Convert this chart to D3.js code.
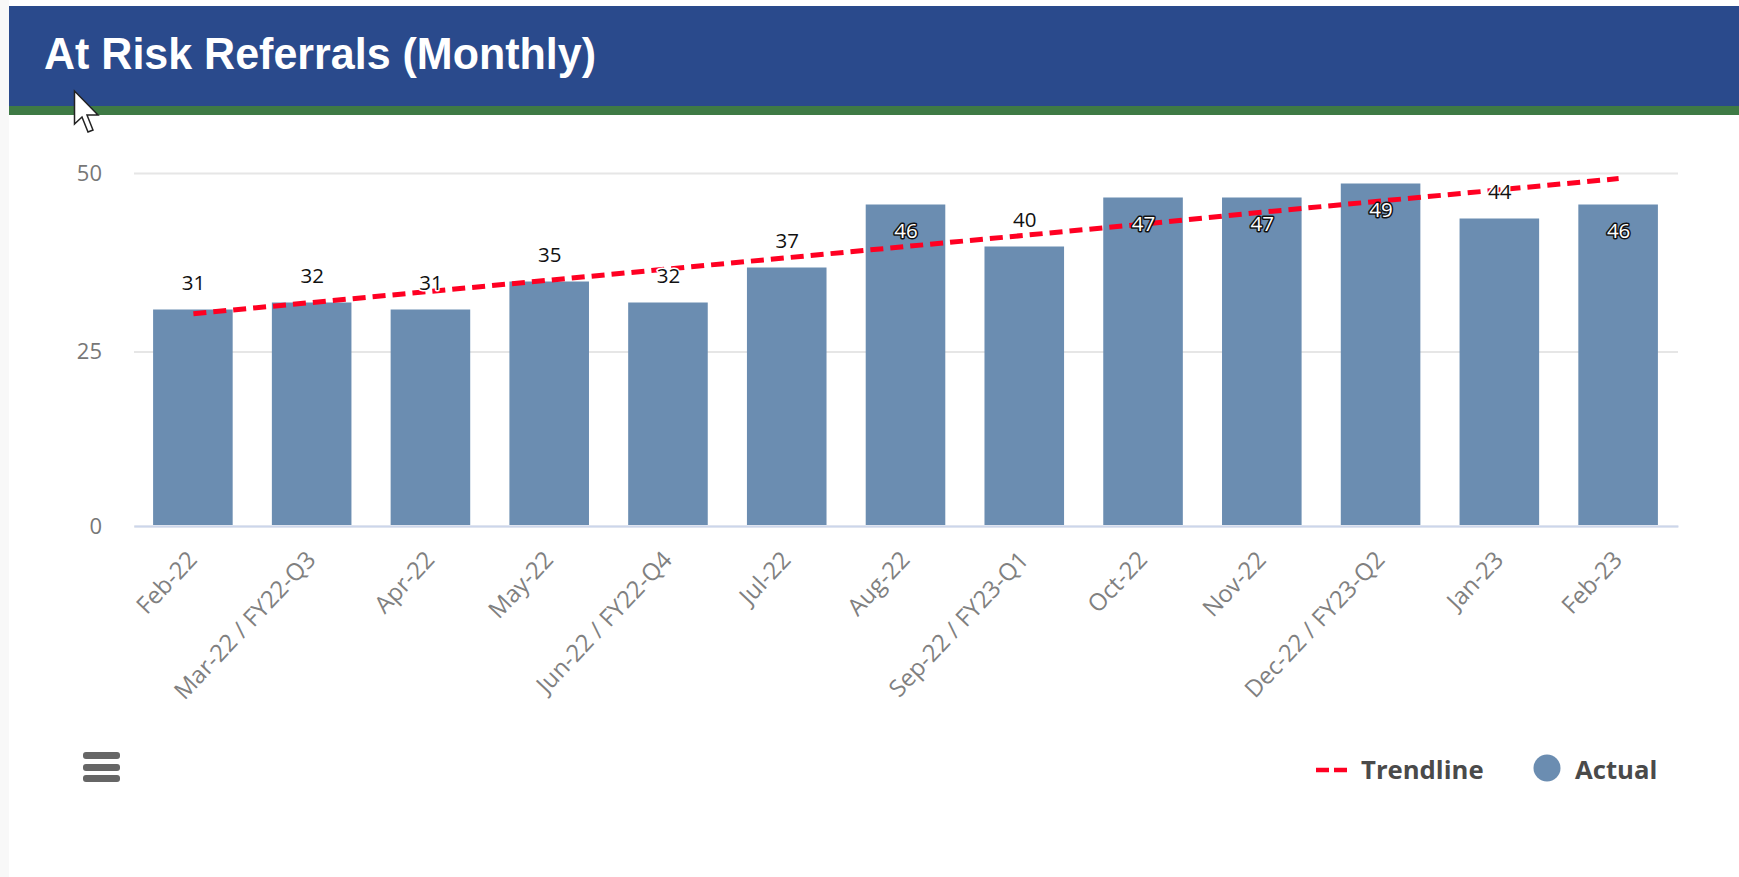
<!DOCTYPE html>
<html>
<head>
<meta charset="utf-8">
<title>At Risk Referrals (Monthly)</title>
<script src="https://cdn.jsdelivr.net/npm/d3@7"></script>
<style>
  html, body { margin: 0; padding: 0; background: #fff; overflow: hidden; }
  svg { display: block; }
  text { font-family: "Open Sans", sans-serif; }
</style>
</head>
<body>
<div id="chart"></div>
<script>
const months = ['Feb-22', 'Mar-22 / FY22-Q3', 'Apr-22', 'May-22', 'Jun-22 / FY22-Q4', 'Jul-22', 'Aug-22',
  'Sep-22 / FY23-Q1', 'Oct-22', 'Nov-22', 'Dec-22 / FY23-Q2', 'Jan-23', 'Feb-23'];
const actual = [31, 32, 31, 35, 32, 37, 46, 40, 47, 47, 49, 44, 46];
const trendline = [30.4, 32.0, 33.6, 35.2, 36.8, 38.4, 40.0, 41.6, 43.2, 44.9, 46.5, 48.1, 49.7];
const yTicks = [0, 25, 50];

const width = 1739;
const height = 877;
const plot = { left: 134, right: 1678, bottom: 526 };

const svg = d3.select('#chart').append('svg')
  .attr('width', width)
  .attr('height', height);

svg.append('rect').attr('width', width).attr('height', height).attr('fill', '#fff');
svg.append('rect').attr('width', 9).attr('height', height).attr('fill', '#f8f8f8');

// header band
svg.append('rect').attr('x', 9).attr('y', 6).attr('width', width - 9).attr('height', 100).attr('fill', '#2a4a8c');
svg.append('rect').attr('x', 9).attr('y', 106).attr('width', width - 9).attr('height', 9).attr('fill', '#3e7a45');
svg.append('text')
  .attr('x', 44)
  .attr('y', 69)
  .attr('fill', '#fff')
  .attr('textLength', 552)
  .attr('lengthAdjust', 'spacingAndGlyphs')
  .style('font-family', '"Liberation Sans", Arial, sans-serif')
  .style('font-weight', 700)
  .style('font-size', '44px')
  .text('At Risk Referrals (Monthly)');

const x = d3.scaleBand()
  .domain(months)
  .range([plot.left, plot.right])
  .paddingInner(0.33)
  .paddingOuter(0.165);

// marks run at 7px a unit, the gridlines in the picture are spaced a bit wider
const y = d3.scaleLinear().domain([0, 50]).range([plot.bottom + 0.5, 176.5]);
const yGrid = d3.scaleLinear().domain([0, 25, 50]).range([plot.bottom, 351.5, 173]);

const yAxis = svg.append('g')
  .attr('transform', `translate(${plot.left},0)`)
  .call(d3.axisLeft(yGrid).tickValues(yTicks).tickSize(-(plot.right - plot.left)).tickPadding(32));
yAxis.select('.domain').remove();
yAxis.selectAll('line').attr('stroke', '#e6e6e6').attr('stroke-width', 2);
yAxis.selectAll('text')
  .attr('fill', '#777')
  .style('font-family', '"Open Sans", sans-serif')
  .style('font-size', '22px');

svg.selectAll('rect.bar')
  .data(actual)
  .enter()
  .append('rect')
  .attr('class', 'bar')
  .attr('x', (d, i) => x(months[i]) - 0.5)
  .attr('y', d => y(d))
  .attr('width', x.bandwidth())
  .attr('height', d => y(0) - y(d) - 1.5)
  .attr('fill', '#6b8db1');

const xAxis = svg.append('g')
  .attr('transform', `translate(0,${plot.bottom})`)
  .call(d3.axisBottom(x).tickSize(0).tickPadding(0));
xAxis.select('.domain').attr('stroke', '#ccd6eb').attr('stroke-width', 2);
xAxis.selectAll('text')
  .attr('fill', '#808080')
  .attr('text-anchor', 'end')
  .attr('dy', 0)
  .attr('y', 0)
  .attr('transform', 'translate(5,35) rotate(-46.5)')
  .style('font-family', '"Open Sans", sans-serif')
  .style('font-size', '23.8px');

const trend = d3.line()
  .x((d, i) => x(months[i]) + x.bandwidth() / 2)
  .y(d => y(d));

svg.append('path')
  .datum(trendline)
  .attr('d', trend)
  .attr('fill', 'none')
  .attr('stroke', '#ff0022')
  .attr('stroke-width', 5)
  .attr('stroke-dasharray', '13,7');

// the tall bars carry their label inside, in white
const isInside = d => d >= 46;

svg.selectAll('text.value')
  .data(actual)
  .enter()
  .append('text')
  .attr('class', 'value')
  .attr('x', (d, i) => x(months[i]) + x.bandwidth() / 2)
  .attr('y', d => y(d) + (isInside(d) ? 33 : -20))
  .attr('text-anchor', 'middle')
  .attr('fill', d => isInside(d) ? '#fff' : '#111')
  .attr('stroke', d => isInside(d) ? '#111' : '#fff')
  .attr('stroke-width', 3)
  .attr('paint-order', 'stroke')
  .attr('stroke-linejoin', 'round')
  .style('font-size', '20.5px')
  .text(d => d);

// export menu button
const menu = svg.append('g').attr('fill', '#666');
[752, 764, 775].forEach(top => {
  menu.append('rect').attr('x', 83).attr('y', top).attr('width', 37).attr('height', 7).attr('rx', 3);
});

// legend
svg.append('line')
  .attr('x1', 1316).attr('x2', 1347)
  .attr('y1', 770).attr('y2', 770)
  .attr('stroke', '#ff0022')
  .attr('stroke-width', 4.5)
  .attr('stroke-dasharray', '13,5');
svg.append('text')
  .attr('x', 1361)
  .attr('y', 779)
  .attr('fill', '#4a4a4a')
  .style('font-weight', 700)
  .style('font-size', '25.7px')
  .text('Trendline');
svg.append('circle')
  .attr('cx', 1547).attr('cy', 768).attr('r', 13.5)
  .attr('fill', '#6b8db1');
svg.append('text')
  .attr('x', 1575)
  .attr('y', 779)
  .attr('fill', '#4a4a4a')
  .style('font-weight', 700)
  .style('font-size', '25.7px')
  .text('Actual');

// mouse pointer caught in the screenshot
svg.append('path')
  .attr('d', 'M74.5,91 L74.5,124 L82,117 L88,132 L93,130 L87,115 L98,115 Z')
  .attr('fill', '#fff')
  .attr('stroke', '#222')
  .attr('stroke-width', 1.5);
</script>
</body>
</html>
